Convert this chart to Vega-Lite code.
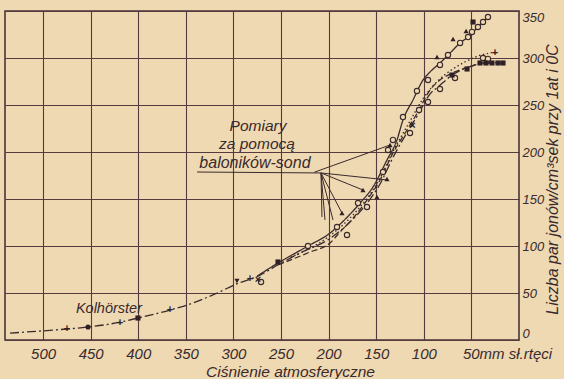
{
  "$schema": "https://vega.github.io/schema/vega-lite/v6.json",
  "width": 514,
  "height": 329,
  "autosize": {"type": "none"},
  "padding": {"left": 5, "top": 11, "right": 45, "bottom": 39},
  "background": "#efd9b2",
  "config": {
    "view": {"stroke": "#4a3438", "strokeWidth": 1.6},
    "font": "Liberation Sans"
  },
  "datasets": {
    "curves": [
      {"s": "dashdot", "p": 534.7, "v": 7.4}, {"s": "dashdot", "p": 475, "v": 11.7}, {"s": "dashdot", "p": 452.8, "v": 13.8},
      {"s": "dashdot", "p": 419, "v": 19}, {"s": "dashdot", "p": 400.3, "v": 23.4}, {"s": "dashdot", "p": 366.7, "v": 31.9},
      {"s": "dashdot", "p": 348.8, "v": 37.2}, {"s": "dashdot", "p": 317, "v": 50}, {"s": "dashdot", "p": 296, "v": 60},
      {"s": "dashdot", "p": 274, "v": 68}, {"s": "dashdot", "p": 253, "v": 80}, {"s": "dashdot", "p": 230, "v": 92.6},
      {"s": "dashdot", "p": 200, "v": 107}, {"s": "dashdot", "p": 176, "v": 127}, {"s": "dashdot", "p": 160, "v": 145},
      {"s": "dashdot", "p": 146, "v": 166}, {"s": "dashdot", "p": 132, "v": 195}, {"s": "dashdot", "p": 118, "v": 220},
      {"s": "dashdot", "p": 106, "v": 240}, {"s": "dashdot", "p": 94, "v": 261}, {"s": "dashdot", "p": 83, "v": 271},
      {"s": "dashdot", "p": 70, "v": 282}, {"s": "dashdot", "p": 59, "v": 288}, {"s": "dashdot", "p": 48, "v": 292},
      {"s": "dashdot", "p": 38, "v": 294}, {"s": "dashdot", "p": 22, "v": 295},
      {"s": "solid", "p": 275, "v": 68}, {"s": "solid", "p": 253, "v": 82}, {"s": "solid", "p": 221.7, "v": 100},
      {"s": "solid", "p": 198.5, "v": 113.8}, {"s": "solid", "p": 191.2, "v": 120.2}, {"s": "solid", "p": 167, "v": 145.7},
      {"s": "solid", "p": 153.4, "v": 162.8}, {"s": "solid", "p": 138.7, "v": 191.5}, {"s": "solid", "p": 128.2, "v": 212.8},
      {"s": "solid", "p": 121.9, "v": 234}, {"s": "solid", "p": 111.4, "v": 255.3}, {"s": "solid", "p": 100.8, "v": 276.6},
      {"s": "solid", "p": 93.5, "v": 285.1}, {"s": "solid", "p": 83, "v": 294.7}, {"s": "solid", "p": 72.4, "v": 305.3},
      {"s": "solid", "p": 61.9, "v": 316}, {"s": "solid", "p": 53.5, "v": 322.3}, {"s": "solid", "p": 44, "v": 331.9},
      {"s": "solid", "p": 32.6, "v": 343.6},
      {"s": "dashed", "p": 253, "v": 80}, {"s": "dashed", "p": 219.6, "v": 93.6}, {"s": "dashed", "p": 198.5, "v": 103.2},
      {"s": "dashed", "p": 188, "v": 114.9}, {"s": "dashed", "p": 172.3, "v": 131.9}, {"s": "dashed", "p": 159.7, "v": 148.9},
      {"s": "dashed", "p": 146, "v": 170.2}, {"s": "dashed", "p": 132.4, "v": 198.9}, {"s": "dashed", "p": 117.7, "v": 223.4},
      {"s": "dashed", "p": 106.2, "v": 242.6}, {"s": "dashed", "p": 93.5, "v": 266}, {"s": "dashed", "p": 83, "v": 276.6},
      {"s": "dashed", "p": 70, "v": 284}, {"s": "dashed", "p": 58.8, "v": 288.5}, {"s": "dashed", "p": 48.3, "v": 292},
      {"s": "dashed", "p": 38, "v": 294.7}, {"s": "dashed", "p": 16.8, "v": 294.7},
      {"s": "dotted", "p": 240, "v": 88}, {"s": "dotted", "p": 200, "v": 110}, {"s": "dotted", "p": 170, "v": 138},
      {"s": "dotted", "p": 150, "v": 165}, {"s": "dotted", "p": 130, "v": 205}, {"s": "dotted", "p": 115, "v": 232},
      {"s": "dotted", "p": 100, "v": 258}, {"s": "dotted", "p": 85, "v": 276}, {"s": "dotted", "p": 70, "v": 288},
      {"s": "dotted", "p": 58.8, "v": 294.7}, {"s": "dotted", "p": 48.3, "v": 300}, {"s": "dotted", "p": 32.6, "v": 305},
      {"s": "dotted", "p": 25, "v": 306}
    ],
    "points": [
      {"m": "oc", "p": 137.6, "v": 202.1}, {"m": "oc", "p": 132.4, "v": 212.8}, {"m": "oc", "p": 121.9, "v": 237.2},
      {"m": "oc", "p": 107.2, "v": 264.9}, {"m": "oc", "p": 95.6, "v": 276.6}, {"m": "oc", "p": 83, "v": 292.6},
      {"m": "oc", "p": 74.6, "v": 303.2}, {"m": "oc", "p": 61.9, "v": 316}, {"m": "oc", "p": 53.5, "v": 322.3},
      {"m": "oc", "p": 49.4, "v": 327.7}, {"m": "oc", "p": 43.1, "v": 333}, {"m": "oc", "p": 37.8, "v": 338.3},
      {"m": "oc", "p": 32.6, "v": 343.6}, {"m": "oc", "p": 221.7, "v": 100}, {"m": "oc", "p": 191.2, "v": 120.2},
      {"m": "oc", "p": 169.1, "v": 145.7}, {"m": "oc", "p": 271, "v": 61.7}, {"m": "oc", "p": 180.7, "v": 111.7},
      {"m": "oc", "p": 159.7, "v": 141.5}, {"m": "oc", "p": 142.9, "v": 178.7}, {"m": "oc", "p": 114.5, "v": 220.2},
      {"m": "oc", "p": 105, "v": 244.7}, {"m": "oc", "p": 95.6, "v": 253.2}, {"m": "oc", "p": 83, "v": 267},
      {"m": "oc", "p": 67.2, "v": 278.7}, {"m": "oc", "p": 37.8, "v": 300}, {"m": "oc", "p": 32.6, "v": 299},
      {"m": "tri", "p": 135.5, "v": 207.4}, {"m": "tri", "p": 138.7, "v": 171.3}, {"m": "tri", "p": 163.9, "v": 159.6},
      {"m": "tri", "p": 149.2, "v": 152.1}, {"m": "tri", "p": 186, "v": 135.1}, {"m": "tri", "p": 69.3, "v": 320.2},
      {"m": "tri", "p": 86.1, "v": 301.1}, {"m": "tri", "p": 55.6, "v": 328.7},
      {"m": "trid", "p": 296.3, "v": 62.8},
      {"m": "sq", "p": 253.2, "v": 83}, {"m": "sq", "p": 400.3, "v": 23.4}, {"m": "sq", "p": 48.3, "v": 338.3},
      {"m": "sq", "p": 70.4, "v": 281.9}, {"m": "sq", "p": 54.6, "v": 288.3}, {"m": "sq", "p": 41, "v": 294.7},
      {"m": "sq", "p": 34.7, "v": 294.7}, {"m": "sq", "p": 28.4, "v": 294.7}, {"m": "sq", "p": 22.1, "v": 294.7},
      {"m": "sq", "p": 16.8, "v": 294.7},
      {"m": "dot", "p": 452.8, "v": 13.8}
    ],
    "crosses": [
      {"c": "×", "p": 274.2, "v": 63.8}, {"c": "×", "p": 112, "v": 228},
      {"c": "+", "p": 474.9, "v": 11.7}, {"c": "+", "p": 419.2, "v": 18.5}, {"c": "+", "p": 366.7, "v": 31.9},
      {"c": "+", "p": 282.6, "v": 64.9}, {"c": "+", "p": 25.2, "v": 305.3}
    ],
    "pointers": [
      {"p": 338.3, "v": 178.7, "p2": 208, "v2": 177.7},
      {"p": 215, "v": 178.5, "p2": 135.5, "v2": 207.4},
      {"p": 208, "v": 177.7, "p2": 137.6, "v2": 170.2},
      {"p": 208, "v": 177.7, "p2": 164, "v2": 159.6},
      {"p": 208, "v": 177.7, "p2": 186, "v2": 135.1},
      {"p": 208, "v": 177.7, "p2": 195.4, "v2": 127.7},
      {"p": 208, "v": 177.7, "p2": 207, "v2": 130.9},
      {"p": 208, "v": 177.7, "p2": 203.8, "v2": 127.7}
    ],
    "labels": [
      {"t": "Pomiary", "p": 274.2, "v": 227.7, "fs": 15.5},
      {"t": "za pomocą", "p": 275.3, "v": 208.5, "fs": 15.5},
      {"t": "baloników-sond", "p": 277.4, "v": 188.3, "fs": 16},
      {"t": "Kolhörster", "p": 430.8, "v": 32.5, "fs": 14.5}
    ]
  },
  "encoding": {
    "x": {
      "field": "p", "type": "quantitative",
      "scale": {"domain": [0, 540], "reverse": true, "nice": false, "zero": false},
      "axis": {
        "values": [500, 450, 400, 350, 300, 250, 200, 150, 100, 50],
        "grid": true, "gridColor": "#553a3e", "gridWidth": 1.1, "gridOpacity": 1,
        "domain": false, "ticks": false,
        "labelPadding": 6, "labelFontSize": 15, "labelFontStyle": "italic",
        "labelColor": "#3a2a2e",
        "labelExpr": "datum.value == 50 ? '50mm sł.rtęci' : datum.label",
        "labelAlign": {"condition": {"test": "datum.value == 50", "value": "left"}, "value": "center"},
        "labelOffset": {"condition": {"test": "datum.value == 50", "value": -9}, "value": 0},
        "title": "Ciśnienie atmosferyczne",
        "titleFontStyle": "italic", "titleFontWeight": "normal", "titleFontSize": 15.5,
        "titleColor": "#3a2a2e", "titleX": 285, "titleY": 36, "titleBaseline": "alphabetic", "titleAlign": "center"
      }
    },
    "y": {
      "field": "v", "type": "quantitative",
      "scale": {"domain": [0, 350], "nice": false},
      "axis": {
        "orient": "right",
        "values": [0, 50, 100, 150, 200, 250, 300, 350],
        "grid": true, "gridColor": "#553a3e", "gridWidth": 1.1, "gridOpacity": 1,
        "domain": false, "ticks": false,
        "labelPadding": 3, "labelFontSize": 13, "labelFontStyle": "italic",
        "labelColor": "#3a2a2e",
        "labelBaseline": {"condition": [{"test": "datum.value == 0", "value": "bottom"}, {"test": "datum.value == 350", "value": "top"}], "value": "middle"},
        "title": "Liczba par jonów/cm³sek przy 1at i 0C",
        "titleAngle": 270, "titleFontStyle": "italic", "titleFontWeight": "normal", "titleFontSize": 16,
        "titleColor": "#3a2a2e", "titleX": 33, "titleY": 168, "titleAlign": "center", "titleBaseline": "middle"
      }
    }
  },
  "layer": [
    {
      "data": {"name": "curves"},
      "mark": {"type": "line", "color": "#3a2a2e", "strokeWidth": 1.3, "interpolate": "monotone"},
      "encoding": {
        "detail": {"field": "s"},
        "strokeDash": {
          "field": "s", "type": "nominal",
          "scale": {"domain": ["solid", "dashed", "dotted", "dashdot"], "range": [[1, 0], [6, 3], [1.5, 2.5], [9, 3, 2, 3]]},
          "legend": null
        }
      }
    },
    {
      "data": {"name": "pointers"},
      "mark": {"type": "rule", "color": "#3a2a2e", "strokeWidth": 1},
      "encoding": {"x2": {"field": "p2"}, "y2": {"field": "v2"}}
    },
    {
      "data": {"name": "points"},
      "transform": [{"filter": "datum.m == 'oc'"}],
      "mark": {"type": "point", "shape": "circle", "filled": true, "fill": "#efd9b2", "stroke": "#3a2a2e", "strokeWidth": 1.1, "size": 28, "opacity": 1}
    },
    {
      "data": {"name": "points"},
      "transform": [{"filter": "datum.m != 'oc'"}],
      "mark": {"type": "point", "filled": true, "color": "#2e2024", "size": 26, "opacity": 1},
      "encoding": {
        "shape": {
          "field": "m", "type": "nominal",
          "scale": {"domain": ["tri", "trid", "sq", "dot"], "range": ["triangle-up", "triangle-down", "square", "circle"]},
          "legend": null
        }
      }
    },
    {
      "data": {"name": "crosses"},
      "mark": {"type": "text", "color": "#2e2024", "fontSize": 11, "align": "center", "baseline": "middle", "fontWeight": "bold"},
      "encoding": {"text": {"field": "c"}}
    },
    {
      "data": {"name": "labels"},
      "mark": {"type": "text", "fontStyle": "italic", "color": "#3a2a2e", "align": "center", "baseline": "middle"},
      "encoding": {
        "text": {"field": "t"},
        "size": {"field": "fs", "type": "quantitative", "scale": null}
      }
    }
  ]
}
